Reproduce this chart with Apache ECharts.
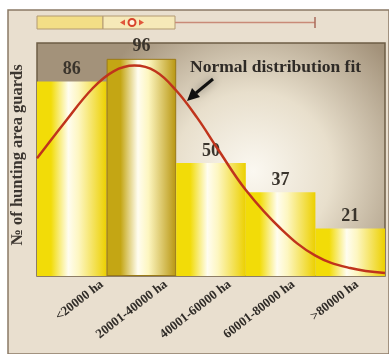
<!DOCTYPE html>
<html>
<head>
<meta charset="utf-8">
<script src="https://cdn.jsdelivr.net/npm/echarts@6/dist/echarts.min.js"></script>
<style>
  html, body { margin: 0; padding: 0; background: #ffffff; }
  #chart { width: 389px; height: 354px; }
</style>
</head>
<body>
<div id="chart"></div>
<script>
// categories and counts of hunting area guards
const categories = ['<20000 ha', '20001-40000 ha', '40001-60000 ha', '60001-80000 ha', '>80000 ha'];
const guards = [86, 96, 50, 37, 21];
// normal distribution fit (x in bar units, 0..5)
const fitX = [0, 0.4, 0.8, 1.1, 1.4, 1.7, 2.0, 2.3, 2.6, 3.0, 3.5, 4.0, 4.5, 5.0];
const fitY = [52, 68, 83, 90.5, 93, 90.5, 82, 70, 56, 38, 21, 9, 3.5, 1.3];

const serif = '"Liberation Serif", "DejaVu Serif", serif';

const barGradient = (edgeL, edgeR) => ({
  type: 'linear', x: 0, y: 0, x2: 1, y2: 0,
  colorStops: [
    { offset: 0, color: edgeL },
    { offset: 0.2, color: edgeL },
    { offset: 0.45, color: '#fffdf0' },
    { offset: 0.6, color: '#fdf6c0' },
    { offset: 1, color: edgeR }
  ]
});

const chart = echarts.init(document.getElementById('chart'));

chart.setOption({
  animation: false,
  backgroundColor: '#ffffff',
  graphic: [
    { type: 'rect', z: -10, silent: true, shape: { x: 8, y: 10, width: 381, height: 344 },
      style: { fill: '#e9dfcf', stroke: '#8a7a66', lineWidth: 1.5 } },
    // decorative strip at the top
    { type: 'rect', shape: { x: 37, y: 16, width: 66, height: 13 },
      style: { fill: '#f3de86', stroke: '#b39a72', lineWidth: 1 } },
    { type: 'rect', shape: { x: 103, y: 16, width: 72, height: 13 },
      style: { fill: '#f6e9b8', stroke: '#b39a72', lineWidth: 1 } },
    { type: 'line', shape: { x1: 175, y1: 22.5, x2: 315, y2: 22.5 },
      style: { stroke: '#c98a78', lineWidth: 1.5 } },
    { type: 'line', shape: { x1: 315, y1: 17, x2: 315, y2: 28 },
      style: { stroke: '#a86a5a', lineWidth: 1.5 } },
    { type: 'circle', shape: { cx: 132, cy: 22.5, r: 3.5 },
      style: { fill: '#fff4e0', stroke: '#d8442c', lineWidth: 2 } },
    { type: 'polygon', shape: { points: [[120, 22.5], [125, 19.5], [125, 25.5]] },
      style: { fill: '#e0563c' } },
    { type: 'polygon', shape: { points: [[144, 22.5], [139, 19.5], [139, 25.5]] },
      style: { fill: '#e0563c' } },
    // annotation
    { type: 'text', left: 190, top: 58,
      style: { text: 'Normal distribution fit', font: 'bold 17.5px ' + serif, fill: '#2e2a26' } },
    { type: 'line', shape: { x1: 213, y1: 79, x2: 196, y2: 93 },
      style: { stroke: '#111111', lineWidth: 3, shadowBlur: 8, shadowColor: 'rgba(0,0,0,0.45)' } },
    { type: 'polygon', shape: { points: [[187, 101], [192, 88], [200, 97]] },
      style: { fill: '#111111' } },
    // y axis title
    { type: 'text', x: 9, y: 155, rotation: Math.PI / 2, silent: true,
      style: { text: '№ of hunting area guards', font: 'bold 16.5px ' + serif, fill: '#3c3630',
               align: 'center', verticalAlign: 'top' } }
  ],
  grid: [
    {
      left: 37, top: 43, width: 348, height: 233,
      show: true,
      borderColor: '#6e5e46', borderWidth: 1.5,
      backgroundColor: {
        type: 'radial', x: 0.62, y: 0.55, r: 0.75,
        colorStops: [
          { offset: 0, color: '#fbf8f1' },
          { offset: 0.45, color: '#e8dfcc' },
          { offset: 1, color: '#a3927a' }
        ]
      }
    },
    { left: 70, top: 43, width: 348, height: 233 }
  ],
  xAxis: [
    { type: 'category', gridIndex: 0, data: categories,
      axisLine: { show: false }, axisTick: { show: false }, axisLabel: { show: false } },
    { type: 'value', gridIndex: 0, min: 0, max: 5, show: false },
    { type: 'category', gridIndex: 1, data: categories,
      axisLine: { show: false }, axisTick: { show: false },
      axisLabel: { rotate: 38, margin: 7, interval: 0,
                   fontFamily: serif, fontWeight: 'bold', fontSize: 13, color: '#2f2b27' } }
  ],
  yAxis: [
    { type: 'value', gridIndex: 0, min: 0, max: 103, show: false },
    { type: 'value', gridIndex: 1, min: 0, max: 103, show: false }
  ],
  series: [
    {
      type: 'bar', xAxisIndex: 0, yAxisIndex: 0,
      barCategoryGap: 0,
      data: guards.map((v, i) => ({
        value: v,
        itemStyle: i === 1
          ? { color: barGradient('#c4a614', '#b89610'), borderColor: '#9a7a18', borderWidth: 1 }
          : { color: barGradient('#f2dc08', '#ecd000') }
      })),
      label: {
        show: true, position: 'top', distance: 3,
        fontFamily: serif, fontWeight: 'bold', fontSize: 18, color: '#3a342c'
      }
    },
    {
      type: 'line', xAxisIndex: 1, yAxisIndex: 0,
      data: fitX.map((x, i) => [x, fitY[i]]),
      smooth: 0.4, showSymbol: false,
      lineStyle: { color: '#c0341c', width: 2.5 },
      z: 5
    }
  ]
});
</script>
</body>
</html>
